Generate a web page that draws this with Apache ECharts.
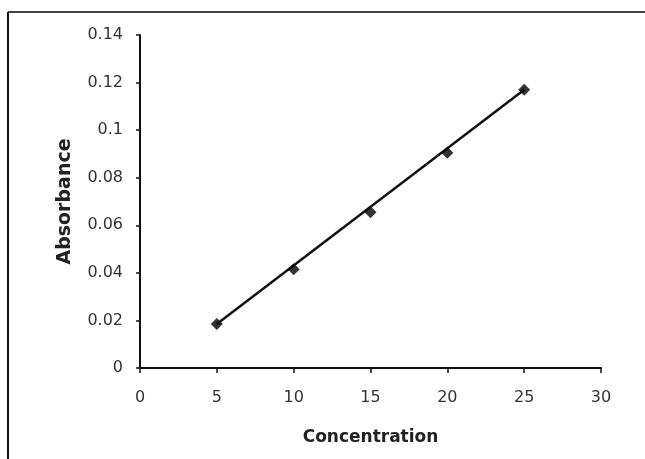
<!DOCTYPE html>
<html>
<head>
<meta charset="utf-8">
<script src="https://cdn.jsdelivr.net/npm/echarts@6/dist/echarts.min.js"></script>
<style>
html,body{margin:0;padding:0;background:#fff;}
#chart{width:645px;height:459px;}
</style>
</head>
<body>
<div id="chart"></div>
<script>
// Data
var concentration = [5, 10, 15, 20, 25];
var absorbance = [0.0185, 0.0415, 0.0655, 0.0905, 0.1170];
// Trend line endpoints
var trendX = [5, 25];
var trendY = [0.0185, 0.1170];
var xTicks = [0, 5, 10, 15, 20, 25, 30];
var yTicks = [0, 0.02, 0.04, 0.06, 0.08, 0.1, 0.12, 0.14];

var chart = echarts.init(document.getElementById('chart'));
var labelFont = {fontFamily: 'DejaVu Sans', fontSize: 16, color: '#333'};
chart.setOption({
  animation: false,
  backgroundColor: '#fff',
  grid: {left: 140, right: 44, top: 35, bottom: 91},
  graphic: [
    {type: 'line', shape: {x1: 8, y1: 12, x2: 645, y2: 12}, style: {stroke: '#444', lineWidth: 2}},
    {type: 'line', shape: {x1: 8, y1: 12, x2: 8, y2: 459}, style: {stroke: '#111', lineWidth: 2}}
  ],
  xAxis: {
    type: 'value', min: xTicks[0], max: xTicks[xTicks.length - 1], interval: 5,
    name: 'Concentration', nameLocation: 'middle', nameGap: 61,
    nameTextStyle: {fontFamily: 'DejaVu Sans', fontWeight: 'bold', fontSize: 17, color: '#222'},
    axisLine: {show: true, onZero: false, lineStyle: {color: '#111', width: 2}},
    axisTick: {show: true, length: 5, lineStyle: {color: '#111', width: 1.5}},
    axisLabel: Object.assign({margin: 22}, labelFont),
    splitLine: {show: false}
  },
  yAxis: {
    type: 'value', min: yTicks[0], max: yTicks[yTicks.length - 1], interval: 0.02,
    name: 'Absorbance', nameLocation: 'middle', nameGap: 65, nameRotate: 90,
    nameTextStyle: {fontFamily: 'DejaVu Sans', fontWeight: 'bold', fontSize: 19, color: '#222'},
    axisLine: {show: true, onZero: false, lineStyle: {color: '#111', width: 2}},
    axisTick: {show: true, length: 4, lineStyle: {color: '#111', width: 1.5}},
    axisLabel: Object.assign({margin: 17, formatter: function (v) { return String(+v.toFixed(2)); }}, labelFont),
    splitLine: {show: false}
  },
  series: [
    {
      type: 'line', data: trendX.map(function (x, i) { return [x, trendY[i]]; }),
      symbol: 'none', lineStyle: {color: '#111', width: 2.5}, z: 2
    },
    {
      type: 'scatter', data: concentration.map(function (x, i) { return [x, absorbance[i]]; }),
      symbol: 'diamond', symbolSize: 12, itemStyle: {color: '#000'}, z: 3
    }
  ]
});
</script>
</body>
</html>
